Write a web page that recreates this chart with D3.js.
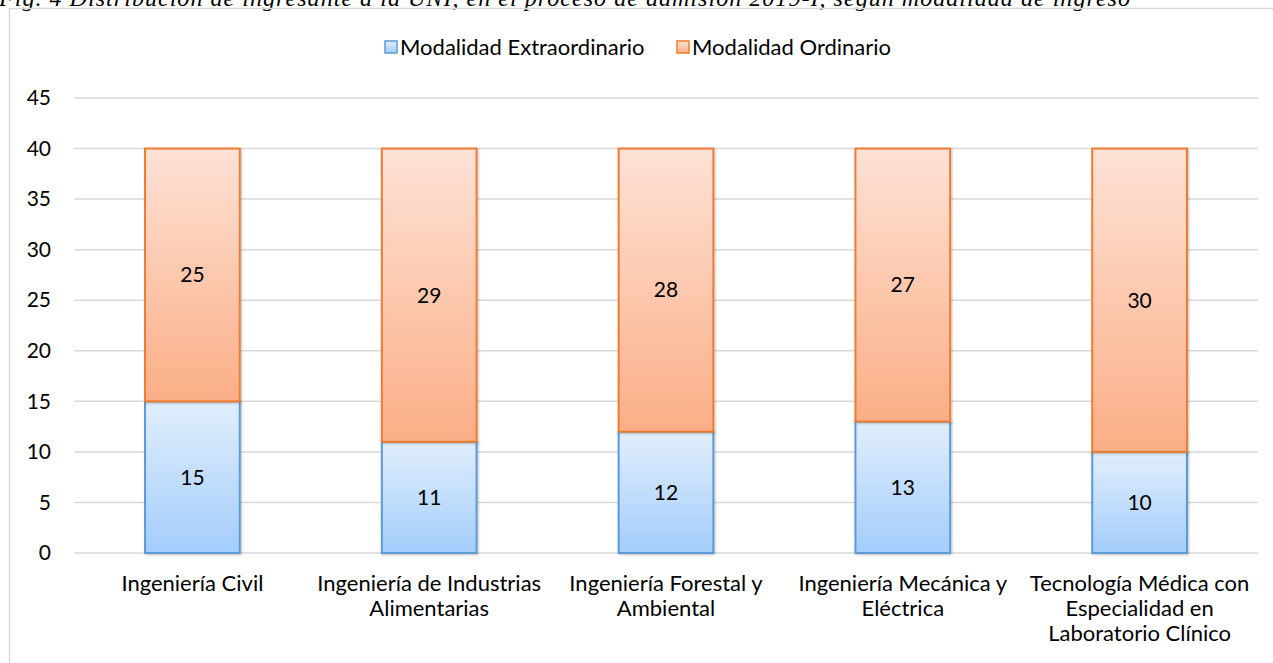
<!DOCTYPE html>
<html>
<head>
<meta charset="utf-8">
<script src="https://cdn.jsdelivr.net/npm/d3@7"></script>
<style>
  body { margin: 0; background: #fff; }
  svg text { font-family: Lato, "Open Sans", sans-serif; fill: #000; }
</style>
</head>
<body>
<div id="chart"></div>
<script>
// data
var categories = [
  ["Ingeniería Civil"],
  ["Ingeniería de Industrias", "Alimentarias"],
  ["Ingeniería Forestal y", "Ambiental"],
  ["Ingeniería Mecánica y", "Eléctrica"],
  ["Tecnología Médica con", "Especialidad en", "Laboratorio Clínico"]
];
var extraordinario = [15, 11, 12, 13, 10];
var ordinario = [25, 29, 28, 27, 30];
var seriesNames = ["Modalidad Extraordinario", "Modalidad Ordinario"];
var yTicks = [0, 5, 10, 15, 20, 25, 30, 35, 40, 45];
var caption = "Fig. 4 Distribución de ingresante a la UNI, en el proceso de admisión 2019-I, según modalidad de ingreso";

var W = 1273, H = 663;
var margin = {top: 98, left: 74},
    width = 1258 - margin.left,
    height = 553 - margin.top;

var svg = d3.select("#chart").append("svg")
    .attr("width", W).attr("height", H);

var defs = svg.append("defs");
function grad(id, c1, c2) {
  var g = defs.append("linearGradient").attr("id", id)
      .attr("x1", 0).attr("y1", 0).attr("x2", 0).attr("y2", 1);
  g.append("stop").attr("offset", "0%").attr("stop-color", c1);
  g.append("stop").attr("offset", "100%").attr("stop-color", c2);
}
grad("gBlue", "#e1eefc", "#a3cdfb");
grad("gOrange", "#fde2d6", "#fbae86");
var shadow = defs.append("filter").attr("id", "sh")
    .attr("x", "-10%").attr("y", "-10%").attr("width", "130%").attr("height", "130%");
shadow.append("feDropShadow").attr("dx", 1).attr("dy", 1)
    .attr("stdDeviation", 1.2).attr("flood-color", "#000").attr("flood-opacity", 0.25);

// caption (cut off at the top, as in the source)
svg.append("text")
    .attr("x", -1).attr("y", 6)
    .attr("textLength", 1131)
    .style("font-family", "'Liberation Serif', 'Times New Roman', serif")
    .style("font-style", "italic")
    .style("font-size", "24px")
    .text(caption);

// chart frame
svg.append("rect")
    .attr("x", 9.5).attr("y", 8.5)
    .attr("width", 1300).attr("height", 700)
    .attr("fill", "none").attr("stroke", "#d9d9d9").attr("stroke-width", 1.5);

var g = svg.append("g")
    .attr("transform", "translate(" + margin.left + "," + margin.top + ")");

var x = d3.scaleBand()
    .domain(d3.range(categories.length))
    .range([0, width])
    .paddingInner(0.6).paddingOuter(0.3);
var y = d3.scaleLinear().domain([0, 45]).range([height, 0]);

// gridlines
g.selectAll(".grid").data(yTicks).enter().append("line")
    .attr("x1", 0).attr("x2", width)
    .attr("y1", function(d) { return y(d); })
    .attr("y2", function(d) { return y(d); })
    .attr("stroke", "#d9d9d9").attr("stroke-width", 1.5);

// y axis labels
var yAxis = g.append("g").call(d3.axisLeft(y).tickValues(yTicks).tickSize(0).tickPadding(23));
yAxis.select(".domain").remove();
yAxis.selectAll("text").style("font-size", "21px").style("font-family", "Lato, sans-serif").attr("fill", "#000");

// bars
var bars = g.selectAll(".cat").data(categories).enter().append("g");
bars.append("rect")
    .attr("x", function(d, i) { return x(i); })
    .attr("width", x.bandwidth())
    .attr("y", function(d, i) { return y(extraordinario[i]); })
    .attr("height", function(d, i) { return y(0) - y(extraordinario[i]); })
    .attr("fill", "url(#gBlue)").attr("stroke", "#5b9bd5").attr("stroke-width", 2)
    .attr("filter", "url(#sh)");
bars.append("rect")
    .attr("x", function(d, i) { return x(i); })
    .attr("width", x.bandwidth())
    .attr("y", function(d, i) { return y(extraordinario[i] + ordinario[i]); })
    .attr("height", function(d, i) { return y(extraordinario[i]) - y(extraordinario[i] + ordinario[i]); })
    .attr("fill", "url(#gOrange)").attr("stroke", "#ed7d31").attr("stroke-width", 2)
    .attr("filter", "url(#sh)");

// value labels
bars.append("text")
    .attr("x", function(d, i) { return x(i) + x.bandwidth() / 2; })
    .attr("y", function(d, i) { return y(extraordinario[i] / 2); })
    .attr("text-anchor", "middle").attr("dy", "0.35em")
    .style("font-size", "21px")
    .text(function(d, i) { return extraordinario[i]; });
bars.append("text")
    .attr("x", function(d, i) { return x(i) + x.bandwidth() / 2; })
    .attr("y", function(d, i) { return y(extraordinario[i] + ordinario[i] / 2); })
    .attr("text-anchor", "middle").attr("dy", "0.35em")
    .style("font-size", "21px")
    .text(function(d, i) { return ordinario[i]; });

// x axis labels
var xl = g.selectAll(".xl").data(categories).enter().append("text")
    .attr("text-anchor", "middle")
    .attr("transform", function(d, i) { return "translate(" + (x(i) + x.bandwidth() / 2) + "," + (height + 38) + ")"; })
    .style("font-size", "22px");
xl.selectAll("tspan").data(function(d) { return d; }).enter().append("tspan")
    .attr("x", 0)
    .attr("y", function(d, j) { return j * 25; })
    .text(function(d) { return d; });

// legend
var legend = svg.append("g").attr("transform", "translate(0,47)");
var legX = [385, 677];
var legFill = ["url(#gBlue)", "url(#gOrange)"];
var legStroke = ["#5b9bd5", "#ed7d31"];
seriesNames.forEach(function(name, i) {
  legend.append("rect")
      .attr("x", legX[i]).attr("y", -6).attr("width", 12).attr("height", 12)
      .attr("fill", legFill[i]).attr("stroke", legStroke[i]).attr("stroke-width", 1.5);
  legend.append("text")
      .attr("x", legX[i] + 15).attr("y", 0).attr("dy", "0.35em")
      .style("font-size", "22px")
      .text(name);
});
</script>
</body>
</html>
